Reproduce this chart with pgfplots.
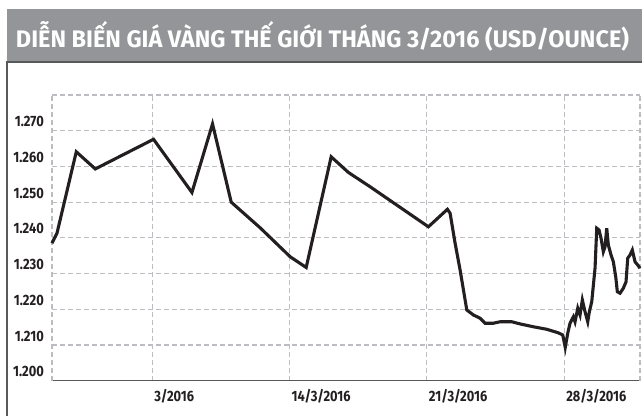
\documentclass[border=0pt]{standalone}
\usepackage{pgfplots}
\pgfplotsset{compat=1.18}
\usepackage{pgfplotstable}
\usepackage{fontspec}
\setmainfont{Fira Sans}
\definecolor{banner}{HTML}{939598}
\definecolor{framec}{HTML}{58595B}
\definecolor{gridc}{HTML}{BCBDC0}
\definecolor{linec}{HTML}{231F20}
\newcommand{\tl}[1]{\scalebox{0.86}[1]{\fontsize{15}{15}\selectfont\bfseries #1}}
\pgfplotstableread{
d v
1.888 1238.5
2.142 1241.3
3.126 1264.1
4.095 1259.3
7.066 1267.6
9.024 1252.7
10.074 1271.9
11.027 1250.0
12.505 1242.8
14.034 1234.7
14.850 1231.7
16.124 1262.7
17.006 1258.3
18.112 1254.3
21.083 1243.1
22.052 1248.0
22.189 1246.9
22.444 1238.5
22.699 1231.0
23.040 1219.8
23.377 1218.4
23.718 1217.5
23.973 1216.1
24.397 1216.1
24.738 1216.5
25.334 1216.5
25.757 1215.9
26.435 1215.1
27.118 1214.4
27.710 1213.4
27.934 1212.8
28.060 1209.3
28.188 1213.3
28.305 1216.1
28.474 1217.9
28.560 1216.5
28.698 1220.3
28.815 1218.4
28.933 1222.6
29.070 1219.3
29.208 1216.5
29.290 1219.3
29.412 1222.1
29.580 1231.5
29.667 1242.7
29.784 1242.2
29.886 1239.9
30.003 1236.1
30.090 1237.5
30.176 1242.7
30.258 1238.0
30.396 1235.2
30.513 1233.3
30.635 1229.1
30.717 1224.9
30.855 1224.5
31.023 1225.9
31.160 1227.7
31.247 1234.3
31.364 1235.2
31.481 1236.6
31.619 1233.3
31.756 1232.4
31.873 1231.5
}\gold
\begin{document}
\begin{tikzpicture}
\fill[banner] (7bp,355bp) rectangle (642bp,407bp);
\node[anchor=base, inner sep=0pt, text=white] at (322.5bp,368.5bp)
  {\resizebox{613bp}{\height}{\fontsize{24}{24}\selectfont\bfseries DIỄN BIẾN GIÁ VÀNG THẾ GIỚI THÁNG 3/2016 (USD/OUNCE)}};
\draw[framec, line width=1.3bp] (7bp,0bp) -- (7bp,354bp) -- (642bp,354bp);
\begin{axis}[
  scale only axis, width=588bp, height=285.7bp,
  at={(52bp,35.3bp)}, anchor=south west,
  xmin=1.888, xmax=31.873, ymin=1200, ymax=1280,
  axis x line*=bottom, axis y line*=left,
  x axis line style={framec, line width=1.2bp, -},
  y axis line style={draw=none, -},
  xtick={7,14,21,28},
  xticklabels={\tl{3/2016},\tl{14/3/2016},\tl{21/3/2016},\tl{28/3/2016}},
  extra x ticks={1.888,31.873},
  extra x tick labels={},
  extra x tick style={grid=major},
  ytick={1200,1210,1220,1230,1240,1250,1260,1270,1280},
  yticklabels={\tl{1.200},\tl{1.210},\tl{1.220},\tl{1.230},\tl{1.240},\tl{1.250},\tl{1.260},\tl{1.270},{}},
  major tick length=0pt,
  grid=major,
  major grid style={gridc, line width=1.1bp, dash pattern=on 5bp off 3bp},
  xticklabel style={anchor=north west, inner sep=0pt, yshift=-8.2bp, xshift=2bp, text=linec},
  yticklabel style={anchor=south east, inner sep=0pt, yshift=3.5bp, xshift=-8bp, text=linec},
  clip=false,
]
\addplot[linec, line width=3.1bp, no marks] table[x=d, y=v] {\gold};
\end{axis}
\pgfresetboundingbox
\useasboundingbox (0bp,0bp) rectangle (642bp,416bp);
\end{tikzpicture}
\end{document}
